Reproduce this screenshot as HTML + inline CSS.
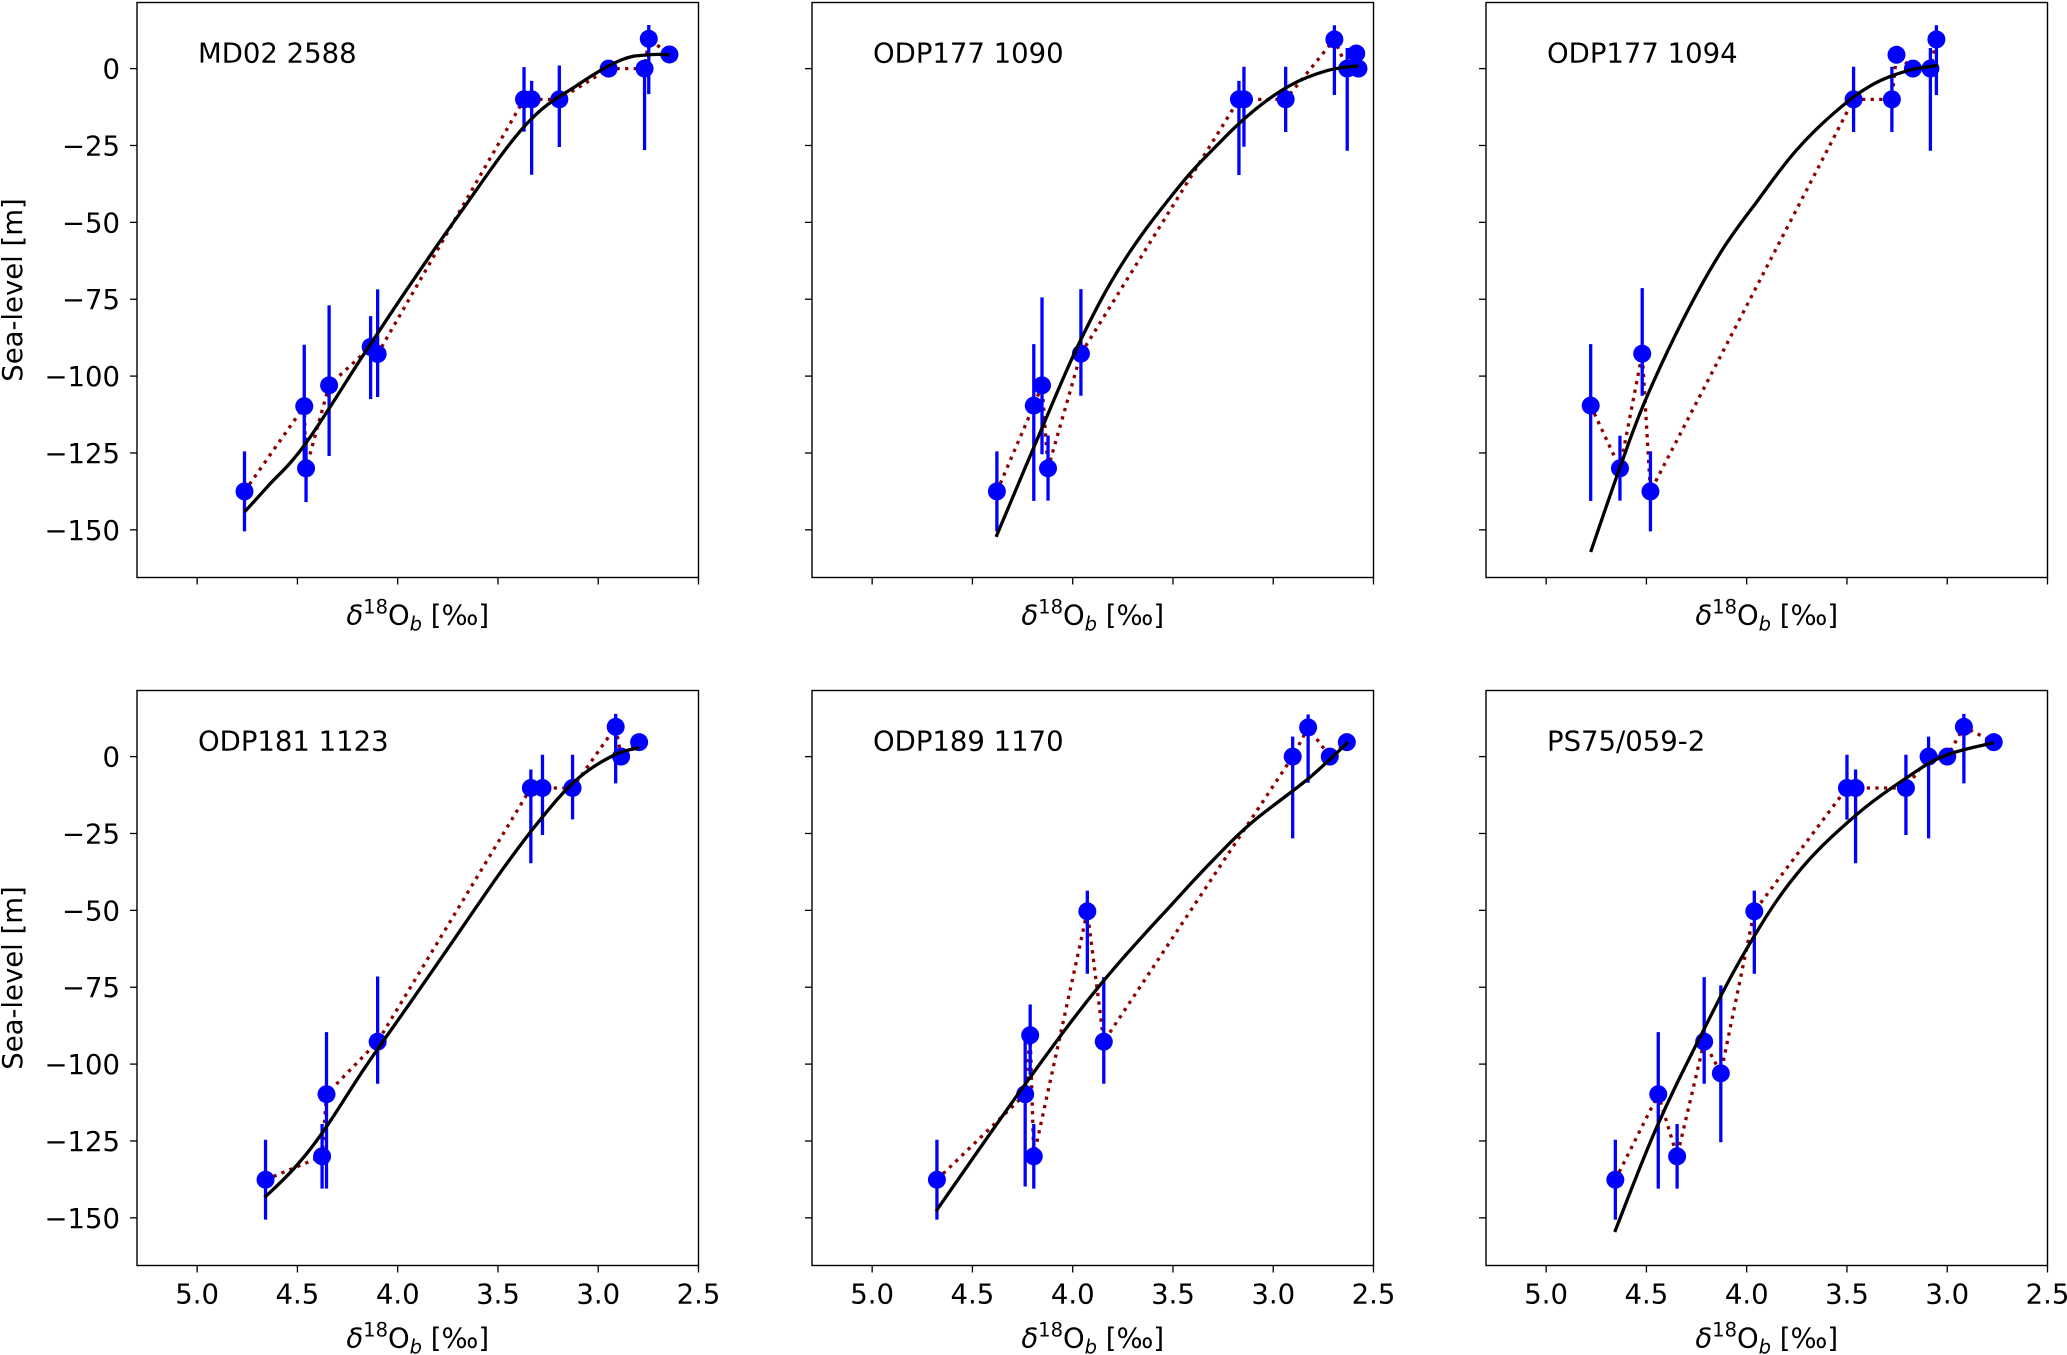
<!DOCTYPE html>
<html><head><meta charset="utf-8">
<style>
html,body{margin:0;padding:0;background:#fff;}
svg{display:block;font-family:"DejaVu Sans","Liberation Sans",sans-serif;}
</style></head>
<body>
<svg id="fig" width="2067" height="1355" viewBox="0 0 2067 1355" xmlns="http://www.w3.org/2000/svg"></svg>
<script>
// ---------- data ----------
const panelNames = ["MD02 2588","ODP177 1090","ODP177 1094","ODP181 1123","ODP189 1170","PS75/059-2"];
const xTicks = [5.0,4.5,4.0,3.5,3.0,2.5];
const xTickLabels = ["5.0","4.5","4.0","3.5","3.0","2.5"];
const yTicks = [0,-25,-50,-75,-100,-125,-150];
const yTickLabels = ["0","\u221225","\u221250","\u221275","\u2212100","\u2212125","\u2212150"];

const p1X = [4.764,4.466,4.457,4.342,4.135,4.10,3.370,3.332,3.194,2.948,2.769,2.748,2.645];
const p1Y = [-137.5,-109.8,-130,-103,-90.5,-92.8,-10,-10,-10,0,0,9.7,4.6];
const p1Hi = [13,20,10,26,10,21,10.5,6,11,0,0,4.5,0];
const p1Lo = [13,20,11,23,17,14,10.5,24.5,15.5,0,26.5,18,0];
const p1FitX = [4.764,4.65,4.46,4.17,3.935,3.70,3.363,3.10,2.886,2.743,2.645];
const p1FitY = [-144.2,-136,-122,-93,-70,-48,-18.4,-5.2,2.8,4.5,4.5];

const p2X = [4.378,4.194,4.153,4.123,3.959,3.171,3.146,2.938,2.695,2.631,2.586,2.575];
const p2Y = [-137.5,-109.6,-103,-130,-92.7,-10,-10,-10,9.5,0,4.9,0];
const p2Hi = [13,20,28.6,10.7,21,6,10.6,10.6,4.6,6.7,0,0];
const p2Lo = [13,31,22.4,10.5,13.7,24.6,15.4,10.6,18.1,26.7,0,0];
const p2FitX = [4.382,4.157,3.959,3.743,3.48,3.292,3.105,2.917,2.729,2.575];
const p2FitY = [-152.3,-117.5,-88.1,-62.4,-39.2,-25.7,-14.1,-5.5,-0.6,0.9];

const p3X = [4.778,4.632,4.521,4.48,3.467,3.276,3.253,3.171,3.084,3.054];
const p3Y = [-109.6,-130,-92.7,-137.5,-10,-10,4.5,0,0,9.5];
const p3Hi = [20,10.6,21.3,13,10.6,10.6,0,0,6.7,4.6];
const p3Lo = [31,10.5,13.7,13,10.6,10.6,0,0,26.7,18.1];
const p3FitX = [4.778,4.632,4.508,4.32,4.132,3.944,3.757,3.569,3.381,3.193,3.047];
const p3FitY = [-157.2,-129.7,-108.3,-82,-60,-42.8,-26.9,-14.7,-5.5,-0.6,1];

const p4X = [4.659,4.377,4.355,4.10,3.336,3.278,3.128,2.913,2.886,2.796];
const p4Y = [-137.6,-130,-109.8,-92.7,-10.2,-10.2,-10.2,9.7,0,4.7];
const p4Hi = [13,10.5,20.2,21.2,6,10.8,10.8,4.2,0,0];
const p4Lo = [13,10.5,30.7,13.7,24.5,15.3,10.2,18.4,0,0];
const p4FitX = [4.664,4.518,4.368,4.162,3.937,3.712,3.487,3.30,3.111,2.924,2.796];
const p4FitY = [-143.4,-134,-121.6,-101,-80,-58.8,-37.6,-21.4,-7.7,0.4,2.9];

const p5X = [4.677,4.237,4.212,4.194,3.927,3.845,2.903,2.826,2.718,2.633];
const p5Y = [-137.6,-109.8,-90.6,-130,-50.3,-92.7,0,9.5,0,4.7];
const p5Hi = [13,20,10,10.5,6.7,21,6.5,4.2,0,0];
const p5Lo = [13,30,13,10.5,20.3,13.7,26.6,18,0,0];
const p5FitX = [4.681,4.231,3.856,3.481,3.293,3.106,2.824,2.627];
const p5FitY = [-147.8,-106,-73.7,-46.3,-33.2,-21.4,-7.1,4.7];

const p6X = [4.655,4.441,4.347,4.212,4.129,3.962,3.50,3.457,3.206,3.093,3.0,2.917,2.768];
const p6Y = [-137.6,-109.8,-130,-92.7,-103,-50.3,-10.2,-10.2,-10.2,0,0,9.7,4.7];
const p6Hi = [13,20.2,10.5,21,28.6,6.7,10.8,6,10.8,6.5,0,4.2,0];
const p6Lo = [13,30.7,10.5,13.7,22.4,20.3,10.3,24.5,15.3,26.6,0,18.4,0];
const p6FitX = [4.658,4.452,4.227,4.0,3.758,3.476,3.194,3.007,2.768];
const p6FitY = [-154.6,-121,-90.5,-62.5,-38.8,-20.2,-6.5,0.4,4.5];

const panelsX = [p1X,p2X,p3X,p4X,p5X,p6X];
const panelsY = [p1Y,p2Y,p3Y,p4Y,p5Y,p6Y];
const panelsHi = [p1Hi,p2Hi,p3Hi,p4Hi,p5Hi,p6Hi];
const panelsLo = [p1Lo,p2Lo,p3Lo,p4Lo,p5Lo,p6Lo];
const panelsFitX = [p1FitX,p2FitX,p3FitX,p4FitX,p5FitX,p6FitX];
const panelsFitY = [p1FitY,p2FitY,p3FitY,p4FitY,p5FitY,p6FitY];

// ---------- layout ----------
const NS = "http://www.w3.org/2000/svg";
const svg = document.getElementById("fig");
const colLeft = [137, 812, 1486];
const rowTop = [2.5, 690.5];
const W = 561.5, H = 575;
const XMIN = 5.3, XMAX = 2.5, YMIN = -165.5, YMAX = 21.5;
const FS = 27.5;

function mk(tag, attrs, parent){
  const e = document.createElementNS(NS, tag);
  for (const k in attrs) e.setAttribute(k, attrs[k]);
  (parent||svg).appendChild(e);
  return e;
}
function smoothPath(pts){
  let d = "M"+pts[0][0].toFixed(2)+","+pts[0][1].toFixed(2);
  for (let i=0;i<pts.length-1;i++){
    const p0 = pts[Math.max(0,i-1)], p1 = pts[i], p2 = pts[i+1], p3 = pts[Math.min(pts.length-1,i+2)];
    const k = 5.5;
    const c1x = p1[0]+(p2[0]-p0[0])/k, c1y = p1[1]+(p2[1]-p0[1])/k;
    const c2x = p2[0]-(p3[0]-p1[0])/k, c2y = p2[1]-(p3[1]-p1[1])/k;
    d += " C"+c1x.toFixed(2)+","+c1y.toFixed(2)+" "+c2x.toFixed(2)+","+c2y.toFixed(2)+" "+p2[0].toFixed(2)+","+p2[1].toFixed(2);
  }
  return d;
}

for (let p=0;p<6;p++){
  const col = p%3, row = Math.floor(p/3);
  const L = colLeft[col], T = rowTop[row];
  const sx = v => L + (XMIN - v)/(XMIN - XMAX)*W;
  const sy = v => T + (YMAX - v)/(YMAX - YMIN)*H;
  const g = mk("g", {});
  
  

  const lab = mk("text", {x: L+61, y: T+60, "font-size": FS, fill:"#000"}, g);
  lab.textContent = panelNames[p];
  
  

  xTicks.forEach((t,i)=>{
    const x = sx(t);
    const tk = mk("line", {x1:x, x2:x, y1:T+H, y2:T+H+7, stroke:"#000", "stroke-width":1.3}, g);
    
    
    if (row===1){
      const tl = mk("text", {x:x, y:T+H+38, "font-size":FS, "text-anchor":"middle", fill:"#000"}, g);
      tl.textContent = xTickLabels[i];
      
      
    }
  });
  yTicks.forEach((t,i)=>{
    const y = sy(t);
    const tk = mk("line", {x1:L-7, x2:L, y1:y, y2:y, stroke:"#000", "stroke-width":1.3}, g);
    
    
    if (col===0){
      const tl = mk("text", {x:L-17, y:y+10, "font-size":FS, "text-anchor":"end", fill:"#000"}, g);
      tl.textContent = yTickLabels[i];
      
      
    }
  });

  const xl = mk("text", {x: L+W/2, y: T+H+(row===0?47:82), "font-size":FS, "text-anchor":"middle", fill:"#000"}, g);
  
  
  const t1 = mk("tspan", {"font-style":"italic"}, xl); t1.textContent = "\u03B4";
  const t2 = mk("tspan", {dy:-11, "font-size":19.5}, xl); t2.textContent = "18";
  const t3 = mk("tspan", {dy:11}, xl); t3.textContent = "O";
  const t4 = mk("tspan", {dy:6, "font-size":19.5, "font-style":"italic"}, xl); t4.textContent = "b";
  const t5 = mk("tspan", {dy:-6}, xl); t5.textContent = " [\u2030]";

  if (col===0){
    const yl = mk("text", {x:0, y:0, "font-size":FS, "text-anchor":"middle", fill:"#000",
      transform:"translate(22,"+(T+H/2)+") rotate(-90)"}, g);
    yl.textContent = "Sea-level [m]";
    
    
  }

  const X = panelsX[p], Y = panelsY[p], Hi = panelsHi[p], Lo = panelsLo[p];
  const dl = mk("polyline", {points: X.map((v,i)=>sx(v).toFixed(2)+","+sy(Y[i]).toFixed(2)).join(" "),
    fill:"none", stroke:"#8b0000", "stroke-width":3.3, "stroke-dasharray":"3.3 5.3"}, g);
  
  

  X.forEach((v,i)=>{
    const x = sx(v);
    if (Hi[i]>0 || Lo[i]>0){
      const eb = mk("line", {x1:x, x2:x, y1:sy(Y[i]+Hi[i]), y2:sy(Y[i]-Lo[i]), stroke:"#0000ff", "stroke-width":3.3}, g);
      
      
    }
  });
  X.forEach((v,i)=>{
    const c = mk("circle", {cx:sx(v), cy:sy(Y[i]), r:9, fill:"#0000ff"}, g);
    
    
  });

  const FX = panelsFitX[p], FY = panelsFitY[p];
  const pts = FX.map((v,i)=>[sx(v), sy(FY[i])]);
  const fc = mk("path", {d: smoothPath(pts), fill:"none", stroke:"#000", "stroke-width":3.3}, g);
  
  

  const fr = mk("rect", {x:L, y:T, width:W, height:H, fill:"none", stroke:"#000", "stroke-width":1.4}, g);
  
  
}
</script>
</body></html>
